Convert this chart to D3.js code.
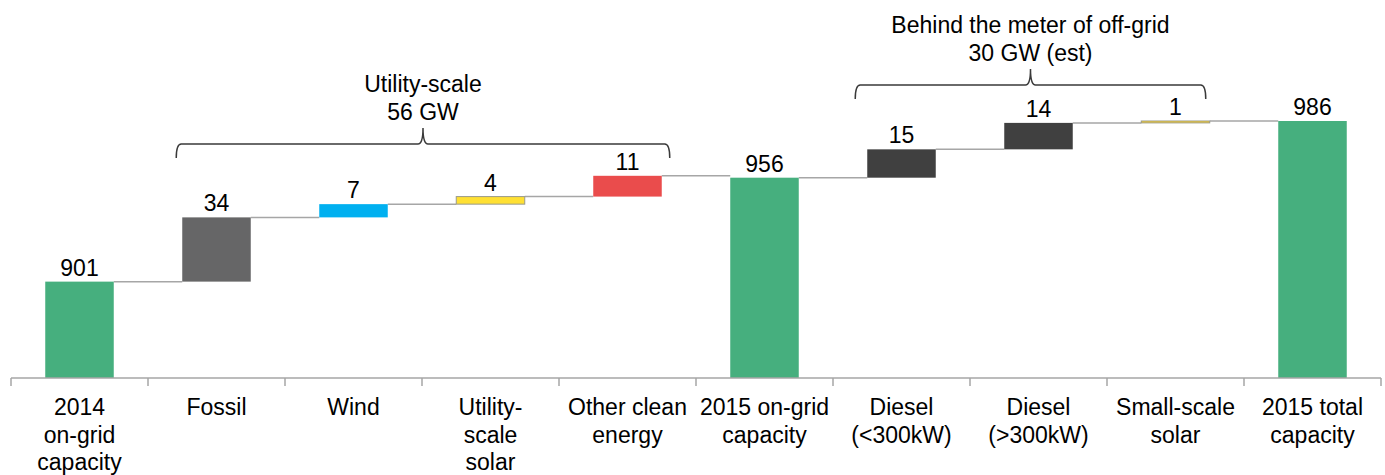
<!DOCTYPE html>
<html>
<head>
<meta charset="utf-8">
<script src="https://cdn.jsdelivr.net/npm/d3@7"></script>
<style>
  html, body { margin: 0; padding: 0; background: #fff; }
  svg { display: block; }
  text { font-family: "Liberation Sans", Arial, sans-serif; fill: #000; }
</style>
</head>
<body>
<svg id="chart" width="1385" height="475"></svg>
<script>
// ---- data ----
const categories = ["2014 on-grid capacity", "Fossil", "Wind", "Utility-scale solar", "Other clean energy",
                    "2015 on-grid capacity", "Diesel (<300kW)", "Diesel (>300kW)", "Small-scale solar", "2015 total capacity"];
const categoryLines = [["2014", "on-grid", "capacity"], ["Fossil"], ["Wind"], ["Utility-", "scale", "solar"],
                       ["Other clean", "energy"], ["2015 on-grid", "capacity"], ["Diesel", "(<300kW)"],
                       ["Diesel", "(>300kW)"], ["Small-scale", "solar"], ["2015 total", "capacity"]];
const values = [901, 34, 7, 4, 11, 956, 15, 14, 1, 986];
const kinds = ["total", "delta", "delta", "delta", "delta", "total", "delta", "delta", "delta", "total"];
const colors = ["#46AF7E", "#666667", "#00B0F0", "#FFE033", "#EA4C4C", "#46AF7E", "#404040", "#404040", "#FFD21F", "#46AF7E"];
const groups = [
  { lines: ["Utility-scale", "56 GW"], from: "Fossil", to: "Other clean energy" },
  { lines: ["Behind the meter of off-grid", "30 GW (est)"], from: "Diesel (<300kW)", to: "Small-scale solar" }
];

// ---- layout ----
const svg = d3.select("#chart");
const baseY = 378;
const x = d3.scaleBand().domain(categories).range([11, 1381]).paddingInner(0.5).paddingOuter(0.25);
const y = d3.scaleLinear().domain([850, 986]).range([baseY, 121]);
const step = x.step(), bw = x.bandwidth();

// compute bar extents
let running = 0;
const bars = categories.map((c, i) => {
  let lo, hi;
  if (kinds[i] === "total") { lo = y.domain()[0]; hi = values[i]; running = values[i]; }
  else { lo = running; hi = running + values[i]; running = hi; }
  return { cat: c, lo, hi, end: running, value: values[i], color: colors[i], kind: kinds[i] };
});

// connectors
const conn = svg.append("g");
bars.forEach((b, i) => {
  if (i === bars.length - 1) return;
  const yy = y(b.end);
  conn.append("line")
    .attr("x1", x(b.cat) + bw).attr("x2", x(bars[i + 1].cat))
    .attr("y1", yy).attr("y2", yy)
    .attr("stroke", "#A6A6A6").attr("stroke-width", 1.5);
});

// bars
svg.append("g").selectAll("rect").data(bars).join("rect")
  .attr("x", d => x(d.cat))
  .attr("width", bw)
  .attr("y", d => y(d.hi))
  .attr("height", d => Math.max(1, y(d.lo) - y(d.hi)))
  .attr("fill", d => d.color)
  .attr("stroke", d => (d.color === "#FFE033" || d.color === "#FFD21F") ? "#9A9A8A" : "none")
  .attr("stroke-width", 1);

// value labels
svg.append("g").selectAll("text").data(bars).join("text")
  .attr("x", d => x(d.cat) + bw / 2)
  .attr("y", d => y(d.hi) - 6)
  .attr("text-anchor", "middle")
  .attr("font-size", 23)
  .text(d => d.value);

// axis line + ticks at band boundaries
const axis = svg.append("g");
axis.append("line").attr("x1", x.range()[0]).attr("x2", x.range()[1])
  .attr("y1", baseY).attr("y2", baseY).attr("stroke", "#A6A6A6").attr("stroke-width", 1.5);
const bounds = categories.map(c => x(c) - (step - bw) / 2).concat([x.range()[1]]);
axis.selectAll("line.tick").data(bounds).join("line").attr("class", "tick")
  .attr("x1", d => d).attr("x2", d => d)
  .attr("y1", baseY).attr("y2", baseY + 8)
  .attr("stroke", "#A6A6A6").attr("stroke-width", 1.5);

// category labels
const lab = svg.append("g");
categories.forEach((c, i) => {
  const t = lab.append("text").attr("x", x(c) + bw / 2).attr("y", baseY + 37)
    .attr("text-anchor", "middle").attr("font-size", 23);
  categoryLines[i].forEach((ln, j) => {
    t.append("tspan").attr("x", x(c) + bw / 2).attr("dy", j === 0 ? 0 : 27.5).text(ln);
  });
});

// braces
function bracePath(x0, x1, yh) {
  const cx = (x0 + x1) / 2, drop = 14, rise = 16, r = 5;
  return `M${x0},${yh + drop} Q${x0},${yh} ${x0 + r},${yh} L${cx - r},${yh} Q${cx},${yh} ${cx},${yh - rise}` +
         ` Q${cx},${yh} ${cx + r},${yh} L${x1 - r},${yh} Q${x1},${yh} ${x1},${yh + drop}`;
}
const braceCfg = [
  { x0: x(groups[0].from) - 6, x1: x(groups[0].to) + bw + 8, yh: 144 },
  { x0: x(groups[1].from) - 12, x1: x(groups[1].to) + bw - 4, yh: 85 }
];
groups.forEach((g, i) => {
  const b = braceCfg[i];
  svg.append("path").attr("d", bracePath(b.x0, b.x1, b.yh))
    .attr("fill", "none").attr("stroke", "#3a3a3a").attr("stroke-width", 1.5);
  const cx = (b.x0 + b.x1) / 2;
  const t = svg.append("text").attr("x", cx).attr("y", b.yh - 52)
    .attr("text-anchor", "middle").attr("font-size", 23);
  g.lines.forEach((ln, j) => t.append("tspan").attr("x", cx).attr("dy", j === 0 ? 0 : 28).text(ln));
});
</script>
</body>
</html>
